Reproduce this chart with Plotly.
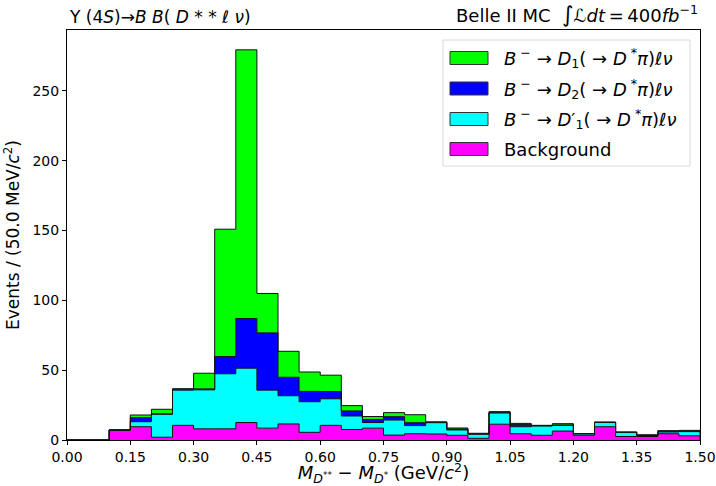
import plotly.graph_objects as go

# ---- data (events per 0.05 GeV/c^2 bin, 0.00 .. 1.50) ----
bin_edges = [round(0.05 * i, 2) for i in range(31)]
background = [0, 0, 7, 9.5, 2, 10.5, 8, 8, 12.5, 8.5, 11.5, 5.5, 10.5, 7.5, 8.5, 3.5, 4.5, 4.3, 3.4, 1.2,
              11.3, 4.5, 3.4, 6.4, 3.4, 9.5, 2.5, 2.5, 4.5, 3.0]
d1prime = [0, 0, 0.2, 3.6, 16.4, 25.2, 27.9, 39.4, 38.9, 27.2, 20.2, 21.9, 19.0, 9.7, 4.0, 10.8, 5.8, 8.1, 3.8, 2.9,
           8.0, 5.0, 6.6, 4.1, 1.0, 3.1, 3.0, 0.6, 1.2, 3.0]
d2 = [0, 0, 0.0, 2.9, 0.4, 0.7, 0.7, 12.4, 35.6, 41.0, 13.2, 7.4, 5.2, 3.6, 2.2, 2.4, 2.1, 0.3, 0.7, 0.4,
      0.5, 1.7, 0.3, 0.3, 0.1, 0.1, 0.1, 0.4, 0.5, 0.4]
d1 = [0, 0, 0.0, 1.9, 3.2, 0.3, 11.2, 91.1, 192.3, 28.2, 18.6, 13.9, 11.7, 3.8, 2.1, 2.9, 5.7, 0.3, 0.7, 0.3,
      0.5, 0.7, 0.2, 0.9, 0.1, 0.1, 0.1, 0.2, 0.5, 0.5]

series = [
    ("Background", background, "#ff00ff"),
    ("B- -> D'1", d1prime, "#00ffff"),
    ("B- -> D2", d2, "#0000ff"),
    ("B- -> D1", d1, "#00ff00"),
]
legend_labels = [
    ("<i>B</i><sup> −</sup> → <i>D</i><sub>1</sub>( → <i>D</i><sup> *</sup><i>π</i>)<i>ℓν</i>", "#00ff00"),
    ("<i>B</i><sup> −</sup> → <i>D</i><sub>2</sub>( → <i>D</i><sup> *</sup><i>π</i>)<i>ℓν</i>", "#0000ff"),
    ("<i>B</i><sup> −</sup> → <i>D</i>′<sub>1</sub>( → <i>D</i><sup> *</sup><i>π</i>)<i>ℓν</i>", "#00ffff"),
    ("Background", "#ff00ff"),
]
x_ticks = [round(0.15 * i, 2) for i in range(11)]
y_ticks = [0, 50, 100, 150, 200, 250]

FONT = "DejaVu Sans"
fig = go.Figure()

# stacked step-filled histogram (like matplotlib histtype='stepfilled', stacked=True)
cum = [0.0] * len(background)
first = True
for name, vals, col in series:
    cum = [c + v for c, v in zip(cum, vals)]
    ys = cum + [cum[-1]]
    fig.add_trace(go.Scatter(
        x=bin_edges, y=ys, mode="lines", name=name,
        line=dict(shape="hv", color="#111111", width=1),
        fill="tozeroy" if first else "tonexty", fillcolor=col,
        showlegend=False, hoverinfo="skip",
    ))
    first = False
fig.add_trace(go.Scatter(x=[bin_edges[-1], bin_edges[-1]], y=[0, cum[-1]], mode="lines",
                         line=dict(color="#111111", width=1), showlegend=False, hoverinfo="skip"))

fig.update_layout(
    width=716, height=486,
    margin=dict(l=67, r=16, t=30, b=46, autoexpand=False),
    plot_bgcolor="white", paper_bgcolor="white",
    font=dict(family=FONT, color="black"),
    xaxis=dict(range=[0, 1.5], tickvals=x_ticks, ticktext=[f"{v:.2f}" for v in x_ticks],
               ticks="outside", ticklen=4, tickcolor="black", showline=True, mirror=True,
               linecolor="black", linewidth=1, showgrid=False, zeroline=False, automargin=False,
               tickfont=dict(size=14, family=FONT),
               title=dict(text="<i>M</i><sub><i>D</i><sup>**</sup></sub> − <i>M</i><sub><i>D</i><sup>*</sup></sub> (GeV/<i>c</i><sup>2</sup>)",
                          font=dict(size=18, family=FONT), standoff=9)),
    yaxis=dict(range=[0, 293.5], tickvals=y_ticks, ticks="outside", ticklen=4, tickcolor="black",
               showline=True, mirror=True, linecolor="black", linewidth=1, showgrid=False,
               zeroline=False, automargin=False, tickfont=dict(size=14, family=FONT),
               title=dict(text="Events / (50.0 MeV/<i>c</i><sup>2</sup>)",
                          font=dict(size=17, family=FONT), standoff=8)),
)

# titles above the frame
fig.add_annotation(x=0, y=1.0, xref="paper", yref="paper", xanchor="left", yanchor="bottom",
                   yshift=1, showarrow=False, font=dict(size=17, family=FONT),
                   text="Υ (4<i>S</i>)→<i>B</i> <i>B</i>( <i>D</i> * * <i>ℓ</i> <i>ν</i>)")
fig.add_annotation(x=1.0, y=1.0, xref="paper", yref="paper", xanchor="right", yanchor="bottom",
                   yshift=1, showarrow=False, font=dict(size=18, family=FONT),
                   text="Belle II MC  <span style='font-size:22px'>∫</span><i>ℒdt</i>\u2009=\u2009400<i>fb</i><sup>−1</sup>")

# manual legend
pw, ph = 633.0, 410.0
def px(x):
    return (x - 67) / pw
def py(y):
    return (440 - y) / ph
fig.add_shape(type="rect", xref="paper", yref="paper", x0=px(443), x1=px(690), y0=py(166), y1=py(40),
              line=dict(color="#d8d8d8", width=1), fillcolor="rgba(255,255,255,0.85)", layer="above")
row_y = [58, 88.5, 119, 149]
for (lab, col), ry in zip(legend_labels, row_y):
    fig.add_shape(type="rect", xref="paper", yref="paper", x0=px(450), x1=px(488),
                  y0=py(ry + 6.5), y1=py(ry - 6.5), fillcolor=col,
                  line=dict(color="#333333", width=1), layer="above")
    fig.add_annotation(x=px(502), y=py(ry), xref="paper", yref="paper", xanchor="left",
                       yanchor="middle", showarrow=False, text=lab,
                       font=dict(size=18, family=FONT))

fig.write_html("out.html")
